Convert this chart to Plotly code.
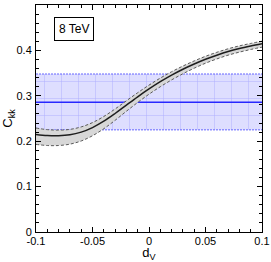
import plotly.graph_objects as go

# ---- data ----
dv = [-0.1, -0.09, -0.08, -0.07, -0.06, -0.05, -0.04, -0.03, -0.02, -0.01,
      0.0, 0.01, 0.02, 0.03, 0.04, 0.05, 0.06, 0.07, 0.08, 0.09, 0.1]
ckk_central = [0.2150, 0.2125, 0.2120, 0.2140, 0.2200, 0.2300, 0.2440, 0.2610, 0.2795, 0.2978,
               0.3150, 0.3310, 0.3455, 0.3585, 0.3700, 0.3805, 0.3895, 0.3975, 0.4040, 0.4095, 0.4145]
ckk_high = [0.2290, 0.2255, 0.2245, 0.2260, 0.2315, 0.2410, 0.2545, 0.2710, 0.2890, 0.3068,
            0.3235, 0.3390, 0.3530, 0.3655, 0.3768, 0.3870, 0.3958, 0.4035, 0.4100, 0.4153, 0.4203]
ckk_low = [0.1930, 0.1905, 0.1905, 0.1935, 0.2005, 0.2120, 0.2275, 0.2460, 0.2660, 0.2853,
           0.3035, 0.3200, 0.3350, 0.3485, 0.3608, 0.3718, 0.3812, 0.3895, 0.3962, 0.4020, 0.4072]

meas_x = [-0.1, 0.1]
meas_central = 0.286
meas_low = 0.225
meas_high = 0.348

x_ticks = [-0.1, -0.05, 0, 0.05, 0.1]
x_ticklabels = ["-0.1", "-0.05", "0", "0.05", "0.1"]
y_ticks = [0, 0.1, 0.2, 0.3, 0.4, 0.5]
y_ticklabels = ["0", "0.1", "0.2", "0.3", "0.4", "0.5"]

FONT = "Liberation Sans, Arial, sans-serif"
BLUE = "rgb(40,40,255)"

fig = go.Figure()

# measurement band
fig.add_trace(go.Scatter(x=meas_x, y=[meas_high] * 2, mode="lines",
                         line=dict(color="rgb(100,100,255)", width=1, dash="2px,1px"),
                         showlegend=False))
fig.add_trace(go.Scatter(x=meas_x, y=[meas_low] * 2, mode="lines", fill="tonexty",
                         fillcolor="rgb(222,222,255)",
                         fillpattern=dict(shape="+", size=17, solidity=0.06,
                                          fgcolor="rgba(120,120,255,0.9)",
                                          bgcolor="rgb(222,222,255)"),
                         line=dict(color="rgb(100,100,255)", width=1, dash="2px,1px"),
                         showlegend=False))
fig.add_trace(go.Scatter(x=meas_x, y=[meas_central] * 2, mode="lines",
                         line=dict(color=BLUE, width=1.5), showlegend=False))

# prediction band
fig.add_trace(go.Scatter(x=dv, y=ckk_high, mode="lines", line_shape="spline",
                         line=dict(color="rgb(90,90,90)", width=1, dash="3px,2px"),
                         showlegend=False))
fig.add_trace(go.Scatter(x=dv, y=ckk_low, mode="lines", line_shape="spline", fill="tonexty",
                         fillcolor="rgb(215,215,215)",
                         line=dict(color="rgb(90,90,90)", width=1, dash="3px,2px"),
                         showlegend=False))
fig.add_trace(go.Scatter(x=dv, y=ckk_central, mode="lines", line_shape="spline",
                         line=dict(color="rgb(30,30,30)", width=1.5), showlegend=False))

axis_common = dict(showgrid=False, zeroline=False, showline=True, linecolor="black",
                   linewidth=1, mirror="allticks", ticks="inside", ticklen=5,
                   tickcolor="black", tickwidth=1, automargin=False,
                   tickfont=dict(family=FONT, size=11, color="black"))

fig.update_xaxes(range=[-0.1, 0.1], tickvals=x_ticks, ticktext=x_ticklabels,
                 minor=dict(ticks="inside", ticklen=3, dtick=0.01, tickcolor="black"),
                 title=dict(text="d<sub>V</sub>", font=dict(family=FONT, size=13, color="black"),
                            standoff=0),
                 ticklabelstandoff=-1,
                 **axis_common)
fig.update_yaxes(range=[0, 0.5], tickvals=y_ticks, ticktext=y_ticklabels,
                 minor=dict(ticks="inside", ticklen=3, dtick=0.02, tickcolor="black"),
                 title=dict(text="C<sub>kk</sub>", font=dict(family=FONT, size=13, color="black"),
                            standoff=2),
                 ticklabelstandoff=1,
                 **axis_common)

fig.add_annotation(x=0.168, y=0.896, xref="paper", yref="paper", text="8 TeV",
                   xanchor="center", yanchor="middle",
                   showarrow=False, font=dict(family=FONT, size=12, color="black"),
                   bordercolor="black", borderwidth=1, borderpad=4, bgcolor="white")

fig.update_layout(width=271, height=262, margin=dict(l=36, r=9, t=5, b=30, autoexpand=False),
                  plot_bgcolor="white", paper_bgcolor="white")

fig.write_html("out.html", config={"displayModeBar": False},
               post_script="document.body.style.margin='0';document.body.style.overflow='hidden';")
